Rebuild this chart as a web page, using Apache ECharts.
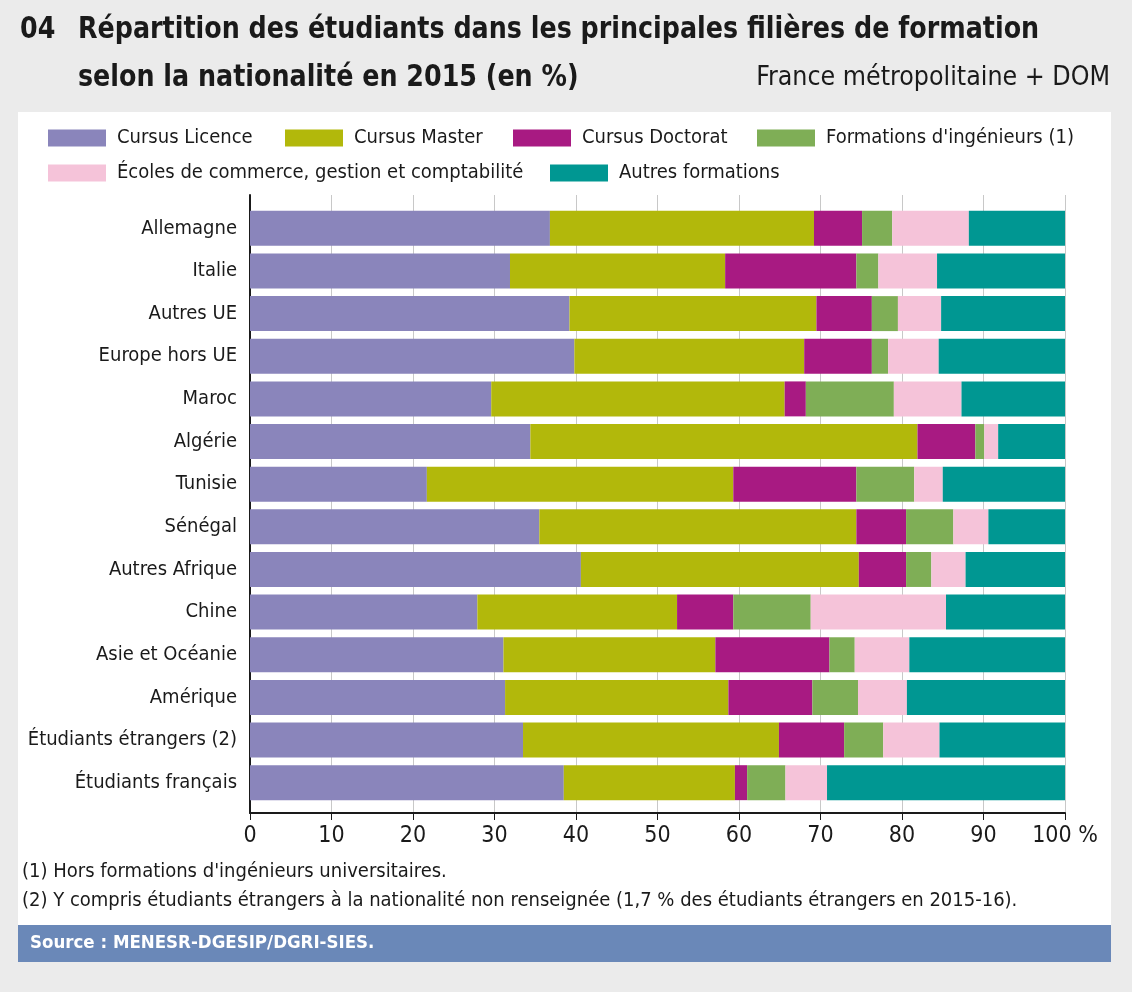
<!DOCTYPE html>
<html>
<head>
<meta charset="utf-8">
<script src="https://cdn.jsdelivr.net/npm/echarts@6/dist/echarts.min.js"></script>
<style>
  html, body { margin: 0; padding: 0; background: #ebebeb; }
  #chart { width: 1132px; height: 992px; }
</style>
</head>
<body>
<div id="chart"></div>
<script>
var FONT = "'Liberation Sans Narrow', 'DejaVu Sans Condensed', 'Liberation Sans', sans-serif";

// données (en %)
var categories = ["Allemagne", "Italie", "Autres UE", "Europe hors UE", "Maroc", "Algérie", "Tunisie",
    "Sénégal", "Autres Afrique", "Chine", "Asie et Océanie", "Amérique",
    "Étudiants étrangers (2)", "Étudiants français"];
var series_names = ["Cursus Licence", "Cursus Master", "Cursus Doctorat", "Formations d'ingénieurs (1)",
    "Écoles de commerce, gestion et comptabilité", "Autres formations"];
var licence    = [36.8, 31.9, 39.2, 39.8, 29.6, 34.4, 21.7, 35.5, 40.6, 27.9, 31.1, 31.3, 33.5, 38.5];
var master     = [32.4, 26.4, 30.3, 28.2, 36.0, 47.5, 37.6, 38.9, 34.1, 24.5, 26.0, 27.4, 31.4, 21.0];
var doctorat   = [5.9, 16.1, 6.8, 8.3, 2.6, 7.1, 15.1, 6.1, 5.8, 6.9, 14.0, 10.3, 8.0, 1.5];
var ingenieurs = [3.7, 2.7, 3.2, 2.0, 10.8, 1.1, 7.1, 5.8, 3.1, 9.5, 3.1, 5.6, 4.8, 4.7];
var commerce   = [9.4, 7.2, 5.3, 6.2, 8.3, 1.7, 3.5, 4.3, 4.2, 16.6, 6.7, 6.0, 6.9, 5.1];
var autres     = [11.8, 15.7, 15.2, 15.5, 12.7, 8.2, 15.0, 9.4, 12.2, 14.6, 19.1, 19.4, 15.4, 29.2];
var series_data = [licence, master, doctorat, ingenieurs, commerce, autres];
var colors = ["#8a85bb", "#b2b80b", "#a81a82", "#7fae56", "#f5c3d9", "#009792"];

var chart = echarts.init(document.getElementById("chart"));

// positions des légendes [left, top]
var legend_pos = [[48, 128], [285, 128], [513, 128], [757, 128], [48, 163], [550, 163]];
var legends = series_names.map(function (name, i) {
    return {
        data: [{ name: name, icon: "rect" }],
        left: legend_pos[i][0],
        top: legend_pos[i][1],
        itemWidth: 58,
        itemHeight: 17,
        selectedMode: false,
        padding: 0,
        textStyle: { fontFamily: FONT, fontSize: 20, color: "#1a1a1a", padding: [0, 0, 0, 6] }
    };
});

var series = series_names.map(function (name, i) {
    return {
        name: name,
        type: "bar",
        stack: "total",
        xAxisIndex: 1,
        yAxisIndex: 1,
        barCategoryGap: "18%",
        itemStyle: { color: colors[i] },
        data: series_data[i]
    };
});

var option = {
    animation: false,
    backgroundColor: "#ebebeb",
    color: colors,
    legend: legends,
    graphic: [
        { type: "rect", z: -100, shape: { x: 18, y: 112, width: 1093, height: 813 }, style: { fill: "#ffffff" } },
        { type: "rect", z: -100, shape: { x: 18, y: 925, width: 1093, height: 37 }, style: { fill: "#6a88b8" } },
        { type: "text", x: 20, y: 30, scaleX: 0.91, style: { text: "04", fontFamily: FONT, fontSize: 31, fontWeight: "bold", fill: "#1a1a1a", verticalAlign: "middle" } },
        { type: "text", x: 78, y: 30, scaleX: 0.91, style: { text: "Répartition des étudiants dans les principales filières de formation", fontFamily: FONT, fontSize: 31, fontWeight: "bold", fill: "#1a1a1a", verticalAlign: "middle" } },
        { type: "text", x: 78, y: 78, scaleX: 0.91, style: { text: "selon la nationalité en 2015 (en %)", fontFamily: FONT, fontSize: 31, fontWeight: "bold", fill: "#1a1a1a", verticalAlign: "middle" } },
        { type: "text", x: 1110, y: 78, style: { text: "France métropolitaine + DOM", fontFamily: FONT, fontSize: 26.5, fill: "#1a1a1a", align: "right", verticalAlign: "middle" } },
        { type: "text", x: 22, y: 872, style: { text: "(1) Hors formations d'ingénieurs universitaires.", fontFamily: FONT, fontSize: 20, fill: "#1a1a1a", verticalAlign: "middle" } },
        { type: "text", x: 22, y: 901, style: { text: "(2) Y compris étudiants étrangers à la nationalité non renseignée (1,7 % des étudiants étrangers en 2015-16).", fontFamily: FONT, fontSize: 20, fill: "#1a1a1a", verticalAlign: "middle" } },
        { type: "text", x: 30, y: 943, style: { text: "Source : MENESR-DGESIP/DGRI-SIES.", fontFamily: FONT, fontSize: 18.5, fontWeight: "bold", fill: "#ffffff", verticalAlign: "middle" } }
    ],
    grid: [
        // grille des traits verticaux et des axes
        { left: 250, right: 67, top: 195, bottom: 179 },
        // grille des barres
        { left: 250, right: 67, top: 207, bottom: 188 }
    ],
    xAxis: [
        {
            gridIndex: 0, type: "value", min: 0, max: 100, interval: 10,
            axisLine: { show: true, lineStyle: { color: "#1a1a1a", width: 2 } },
            axisTick: { show: true, length: 7, lineStyle: { color: "#1a1a1a", width: 1 } },
            splitLine: { show: true, lineStyle: { color: "#c8c8c8", width: 1 } },
            axisLabel: {
                fontFamily: FONT, fontSize: 23, color: "#1a1a1a", margin: 12,
                formatter: function (v) { return v === 100 ? "100 %" : String(v); }
            }
        },
        {
            gridIndex: 1, type: "value", min: 0, max: 100, show: false
        }
    ],
    yAxis: [
        {
            gridIndex: 0, type: "value", min: 0, max: 1,
            axisLine: { show: true, lineStyle: { color: "#1a1a1a", width: 2 } },
            axisTick: { show: false }, axisLabel: { show: false }, splitLine: { show: false }
        },
        {
            gridIndex: 1, type: "category", inverse: true, data: categories,
            axisLine: { show: false }, axisTick: { show: false }, splitLine: { show: false },
            axisLabel: { fontFamily: FONT, fontSize: 20, color: "#1a1a1a", margin: 13 }
        }
    ],
    series: series
};

chart.setOption(option);
</script>
</body>
</html>
